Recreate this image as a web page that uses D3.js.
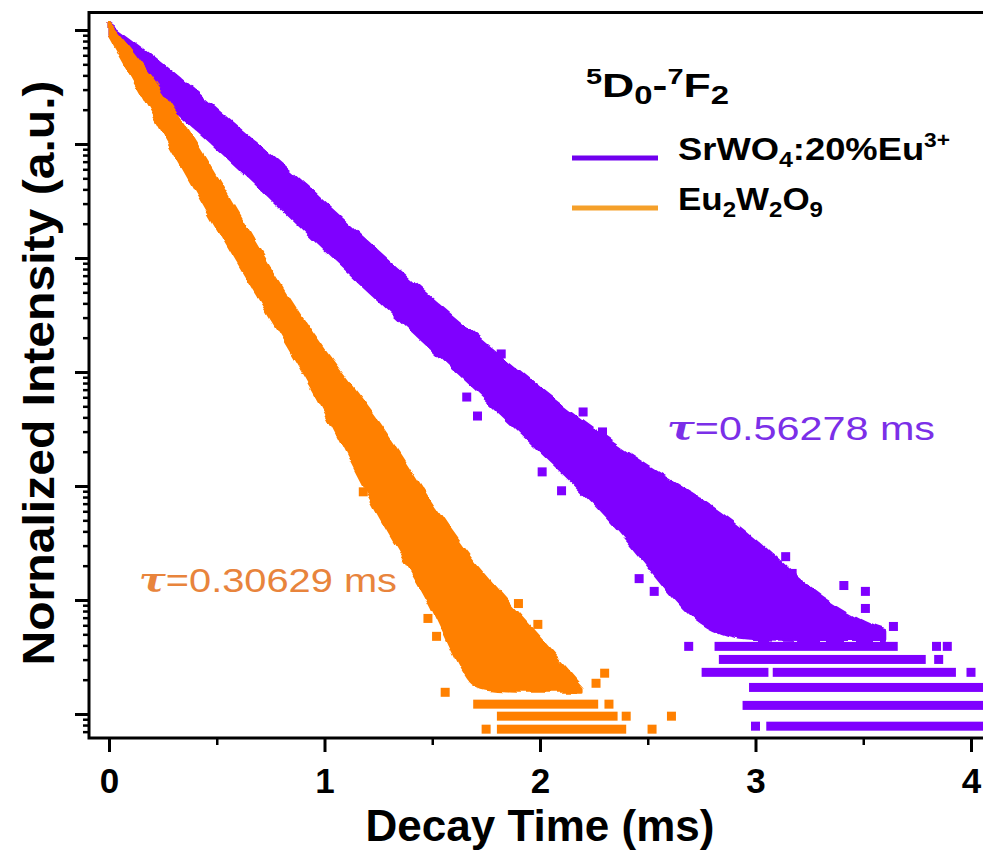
<!DOCTYPE html>
<meta charset="utf-8">
<style>
  html, body { margin: 0; padding: 0; background: #fff; }
  svg { display: block; }
  text { font-family: "Liberation Sans", Arial, sans-serif; }
</style>
<script src="https://cdn.jsdelivr.net/npm/d3@7"></script>
<div id="chart"></div>
<script>
// ---- data (time in ms, normalized intensity) ----
const xTicks = [0, 1, 2, 3, 4];
const xMinorTicks = [0.5, 1.5, 2.5, 3.5];
const yMajorTicks = [1e-6, 1e-5, 1e-4, 1e-3, 1e-2, 1e-1, 1];

// SrWO4:20%Eu3+ : envelope of the noisy decay band
const srTime  = [0, 0.1, 0.25, 0.5, 0.75, 1.0, 1.25, 1.5, 1.75, 2.0, 2.25, 2.5, 2.75, 3.0, 3.25, 3.5, 3.6];
const srUpper = [1.13, 0.817, 0.505, 0.197, 0.0802, 0.0305, 0.0113, 0.00426, 0.00172, 0.000701, 0.000303, 0.000146, 7.73e-5, 3.45e-5, 1.18e-5, 6.23e-6, 5.41e-6];
const srLower = [0.886, 0.505, 0.244, 0.0947, 0.0340, 0.0119, 0.00433, 0.00158, 0.000579, 0.000203, 7.33e-5, 2.09e-5, 4.99e-6, 4.42e-6, 4.42e-6, 4.42e-6, 4.42e-6];
// low-count rows: [from ms, to ms, intensity]
const srRows = [[2.81, 3.66, 3.92e-6], [2.83, 3.79, 3.01e-6], [2.75, 3.06, 2.32e-6], [3.08, 3.93, 2.32e-6],
                [2.97, 4.1, 1.71e-6], [2.94, 4.1, 1.19e-6], [3.05, 4.1, 7.82e-7]];
const srStray = [[1.82, 1.44e-3], [1.66, 6.03e-4], [1.71, 4.11e-4], [2.20, 4.46e-4], [2.29, 2.98e-4],
                 [2.01, 1.33e-4], [2.10, 9.08e-5], [3.14, 2.40e-5], [3.17, 1.71e-5], [3.41, 1.34e-5],
                 [3.51, 1.19e-5], [3.51, 8.43e-6], [3.64, 5.86e-6], [2.69, 3.92e-6], [3.84, 3.92e-6],
                 [3.89, 3.92e-6], [3.85, 3.01e-6], [4.00, 2.32e-6], [2.53, 1.19e-5], [2.46, 1.54e-5],
                 [3.00, 7.82e-7]];

// Eu2W2O9
const euTime  = [0, 0.1, 0.25, 0.5, 0.75, 1.0, 1.25, 1.5, 1.65, 1.75, 2.0, 2.2];
const euUpper = [1.13, 0.668, 0.287, 0.0507, 0.00763, 0.00144, 0.000387, 6.58e-5, 2.66e-5, 1.54e-5, 4.6e-6, 1.68e-6];
const euLower = [0.886, 0.404, 0.128, 0.0185, 0.00302, 0.000503, 5.16e-5, 9.9e-6, 1.86e-6, 1.58e-6, 1.58e-6, 1.58e-6];
const euRows = [[1.69, 2.27, 1.22e-6], [1.80, 2.36, 9.57e-7], [1.80, 2.40, 7.36e-7]];
const euStray = [[1.90, 9.31e-6], [1.99, 6.11e-6], [1.48, 6.89e-6], [1.52, 4.8e-6], [1.56, 1.55e-6],
                 [2.10, 2.28e-6], [2.30, 2.28e-6], [2.26, 1.86e-6], [2.32, 1.22e-6], [2.40, 9.57e-7],
                 [2.52, 7.36e-7], [2.61, 9.57e-7], [1.75, 7.36e-7], [1.18, 8.89e-5]];

const srColor = "#7f00ff", euColor = "#ff8000";

// ---- layout ----
const W = 983, H = 854;
const frame = {left: 89, top: 12.5, bottom: 738, right: 1020};
const svg = d3.select("#chart").append("svg").attr("width", W).attr("height", H);

const x = d3.scaleLinear().domain([0, 4]).range([109, 971]);
const y = d3.scaleLog().domain([1e-6, 1]).range([714, 30]);

const defs = svg.append("defs");
defs.append("clipPath").attr("id", "plotClip")
  .append("rect").attr("x", frame.left).attr("y", frame.top)
  .attr("width", frame.right - frame.left).attr("height", frame.bottom - frame.top);

// roughens the band edge so it reads like packed square markers
const rough = defs.append("filter").attr("id", "rough")
  .attr("x", "-5%").attr("y", "-5%").attr("width", "110%").attr("height", "110%");
rough.append("feTurbulence").attr("type", "fractalNoise").attr("baseFrequency", 0.07)
  .attr("numOctaves", 1).attr("seed", 5).attr("result", "noise");
rough.append("feDisplacementMap").attr("in", "SourceGraphic").attr("in2", "noise")
  .attr("scale", 9).attr("xChannelSelector", "R").attr("yChannelSelector", "G");

const plot = svg.append("g").attr("clip-path", "url(#plotClip)");
const M = 9; // marker size

const area = d3.area()
  .x(d => x(d.t)).y0(d => y(d.lo)).y1(d => y(d.hi))
  .curve(d3.curveBasis);

const series = [
  {color: srColor, time: srTime, upper: srUpper, lower: srLower, rows: srRows, stray: srStray},
  {color: euColor, time: euTime, upper: euUpper, lower: euLower, rows: euRows, stray: euStray}
];

series.forEach(s => {
  const pts = s.time.map((t, i) => ({t: t, hi: s.upper[i], lo: s.lower[i]}));
  const g = plot.append("g").attr("fill", s.color);
  g.append("path").datum(pts).attr("d", area)
    .attr("stroke", s.color).attr("stroke-width", 3).attr("stroke-linejoin", "round")
    .attr("filter", "url(#rough)");
  g.selectAll("rect.row").data(s.rows).join("rect").attr("class", "row")
    .attr("x", d => x(d[0])).attr("width", d => x(d[1]) - x(d[0]))
    .attr("y", d => y(d[2]) - M / 2).attr("height", M);
  g.selectAll("rect.pt").data(s.stray).join("rect").attr("class", "pt")
    .attr("x", d => x(d[0]) - M / 2).attr("y", d => y(d[1]) - M / 2)
    .attr("width", M).attr("height", M);
});

// ---- axes ----
const yMin = y.invert(frame.bottom), yMax = y.invert(frame.top);
const yMinor = [];
[1e-7].concat(yMajorTicks).forEach(p => {
  [2, 3, 4, 5, 6, 7, 8, 9].forEach(m => {
    const v = m * p;
    if (v > yMin && v < yMax) yMinor.push(v);
  });
});

const yAxMajor = svg.append("g").attr("transform", `translate(${frame.left},0)`)
  .call(d3.axisLeft(y).tickValues(yMajorTicks).tickSize(14).tickFormat(""));
const yAxMinor = svg.append("g").attr("transform", `translate(${frame.left},0)`)
  .call(d3.axisLeft(y).tickValues(yMinor).tickSize(6).tickFormat(""));
yAxMajor.selectAll("line").attr("stroke-width", 3);
yAxMinor.selectAll("line").attr("stroke-width", 2.5);

const xAxMajor = svg.append("g").attr("transform", `translate(0,${frame.bottom})`)
  .call(d3.axisBottom(x).tickValues(xTicks).tickSize(14).tickPadding(16).tickFormat(d3.format("d")));
const xAxMinor = svg.append("g").attr("transform", `translate(0,${frame.bottom})`)
  .call(d3.axisBottom(x).tickValues(xMinorTicks).tickSize(7).tickFormat(""));
xAxMajor.selectAll("line").attr("stroke-width", 3);
xAxMinor.selectAll("line").attr("stroke-width", 2.5);
xAxMajor.selectAll("text").attr("font-size", 35).attr("font-weight", "bold")
  .attr("font-family", "Liberation Sans, Arial, sans-serif").attr("fill", "#000");
svg.selectAll(".domain").remove();

// frame (left, top, bottom; right side runs off the picture)
svg.append("path")
  .attr("d", `M${frame.right},${frame.top}H${frame.left}V${frame.bottom}H${frame.right}`)
  .attr("fill", "none").attr("stroke", "#000").attr("stroke-width", 3);

// axis titles
svg.append("text").attr("x", 540).attr("y", 841).attr("text-anchor", "middle")
  .attr("font-size", 44).attr("font-weight", "bold").text("Decay Time (ms)");
svg.append("text").attr("transform", "translate(54,373) rotate(-90)").attr("text-anchor", "middle")
  .attr("font-size", 45).attr("font-weight", "bold")
  .attr("textLength", 585).attr("lengthAdjust", "spacingAndGlyphs")
  .text("Nornalized Intensity (a.u.)");

// ---- legend ----
const title = svg.append("text").attr("x", 586).attr("y", 97).attr("font-weight", "bold")
  .attr("textLength", 143).attr("lengthAdjust", "spacingAndGlyphs");
[["5", 22, -13], ["D", 34, 13], ["0", 25, 7], ["-", 34, -7], ["7", 22, -13], ["F", 34, 13], ["2", 25, 7]]
  .forEach(([t, fs, dy]) => title.append("tspan").attr("font-size", fs).attr("dy", dy).text(t));

const legend = [
  {color: "#7000ee", y: 158, parts: [["SrWO", 32, 0], ["4", 22, 7], [":20%Eu", 32, -7], ["3+", 20, -13]], len: 272},
  {color: "#f5a02a", y: 208, parts: [["Eu", 32, 0], ["2", 22, 7], ["W", 32, -7], ["2", 22, 7], ["O", 32, -7], ["9", 22, 7]], len: 145}
];
legend.forEach(l => {
  svg.append("line").attr("x1", 572).attr("x2", 658).attr("y1", l.y).attr("y2", l.y)
    .attr("stroke", l.color).attr("stroke-width", 5);
  const t = svg.append("text").attr("x", 678).attr("y", l.y + 2).attr("font-weight", "bold")
    .attr("textLength", l.len).attr("lengthAdjust", "spacingAndGlyphs");
  l.parts.forEach(([s, fs, dy]) => t.append("tspan").attr("font-size", fs).attr("dy", dy).text(s));
});

// lifetime labels
const tauLabels = [
  {x: 667, y: 440, text: "=0.56278 ms", color: "#7b2fe8", len: 268},
  {x: 139, y: 592, text: "=0.30629 ms", color: "#e8843c", len: 258}
];
tauLabels.forEach(l => {
  const t = svg.append("text").attr("x", l.x).attr("y", l.y).attr("fill", l.color)
    .attr("font-size", 34).attr("textLength", l.len).attr("lengthAdjust", "spacingAndGlyphs");
  t.append("tspan").attr("font-family", "DejaVu Serif, serif").attr("font-style", "italic")
    .attr("font-weight", "bold").text("τ");
  t.append("tspan").text(l.text);
});
</script>
